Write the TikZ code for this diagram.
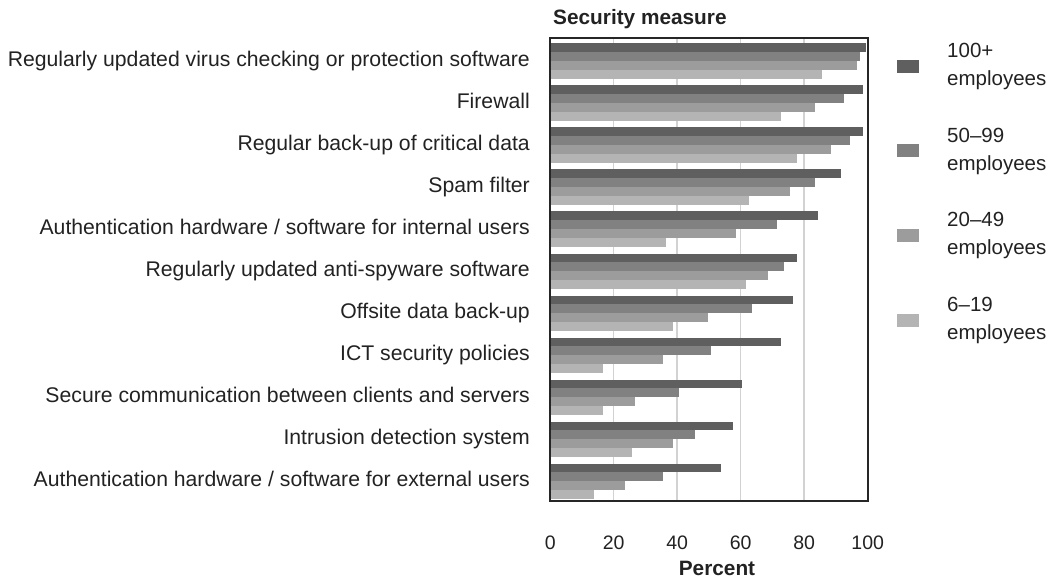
\documentclass[tikz,border=0pt]{standalone}
\usepackage{fontspec}
\setmainfont{Liberation Sans}
\definecolor{barA}{HTML}{5F5F5F}
\definecolor{barB}{HTML}{818181}
\definecolor{barC}{HTML}{9C9C9C}
\definecolor{barD}{HTML}{B4B4B4}
\definecolor{gridc}{HTML}{D2D2D2}
\definecolor{framec}{HTML}{262626}
\definecolor{textc}{HTML}{222222}
\begin{document}
\begin{tikzpicture}[x=1pt,y=-1pt,
  txt/.style={font=\fontsize{21.2}{24}\selectfont, text=textc, inner sep=0pt},
  ticktxt/.style={font=\fontsize{19.5}{23}\selectfont, text=textc, inner sep=0pt},
  bold/.style={font=\fontsize{20.8}{24}\selectfont\bfseries, text=textc, inner sep=0pt},
  legtxt/.style={font=\fontsize{20.5}{28}\selectfont, text=textc, inner sep=0pt, align=left, anchor=west},
  gridline/.style={draw=gridc, line width=1.5pt},
  plotframe/.style={draw=framec, line width=2.2pt},
  swatch/.style={minimum width=22pt, minimum height=13pt, inner sep=0pt}]
\useasboundingbox (0,0) rectangle (1049,580);

% plot area: 0% at x=550.2, 100% at x=867.7
\def\xz{550.2}
\def\xs{3.175}

% vertical grid lines
\foreach \v in {20,40,60,80}
  \draw[gridline] ({\xz+\xs*\v},38) -- ({\xz+\xs*\v},501);

% bars: one row per security measure, four size classes
\foreach \i/\a/\b/\c/\d/\lab in {
  0/99.5/97.6/96.6/85.6/{Regularly updated virus checking or protection software},
  1/98.4/92.5/83.4/72.6/{Firewall},
  2/98.4/94.4/88.3/77.7/{Regular back-up of critical data},
  3/91.6/83.4/75.5/62.6/{Spam filter},
  4/84.3/71.4/58.5/36.5/{Authentication hardware / software for internal users},
  5/77.7/73.6/68.6/61.7/{Regularly updated anti-spyware software},
  6/76.5/63.5/49.7/38.7/{Offsite data back-up},
  7/72.7/50.6/35.5/16.6/{ICT security policies},
  8/60.4/40.6/26.7/16.6/{Secure communication between clients and servers},
  9/57.6/45.6/38.7/25.7/{Intrusion detection system},
  10/53.8/35.5/23.6/13.8/{Authentication hardware / software for external users}}{
  \pgfmathsetmacro{\t}{43.5+42*\i}
  \fill[barA] (\xz,\t) rectangle ({\xz+\xs*\a},{\t+8.85});
  \fill[barB] (\xz,{\t+8.85}) rectangle ({\xz+\xs*\b},{\t+17.7});
  \fill[barC] (\xz,{\t+17.7}) rectangle ({\xz+\xs*\c},{\t+26.55});
  \fill[barD] (\xz,{\t+26.55}) rectangle ({\xz+\xs*\d},{\t+35.4});
  \node[txt, anchor=base east] (cat\i) at (530,{\t+22.9}) {\lab};
}

% frame
\draw[plotframe] (550,38) rectangle (868,501);

% titles
\node[bold, anchor=base west] (ttl) at (553,25) {Security measure};
\node[bold, anchor=base] (xttl) at (717,575) {Percent};

% tick labels
\foreach \v in {0,20,40,60,80,100}
  \node[ticktxt, anchor=base] (tick\v) at ({\xz+\xs*\v},549) {\v};

% legend
\foreach \k/\col/\lab [count=\n from 0] in {
  a/barA/100+, b/barB/50--99, c/barC/20--49, d/barD/6--19}{
  \pgfmathsetmacro{\yy}{66.5+84.5*\n}
  \node[swatch, fill=\col] (sw\k) at (908,\yy) {};
  \node[legtxt] (lg\k) at (947,\yy) {\lab\\employees};
}
\end{tikzpicture}
\end{document}
